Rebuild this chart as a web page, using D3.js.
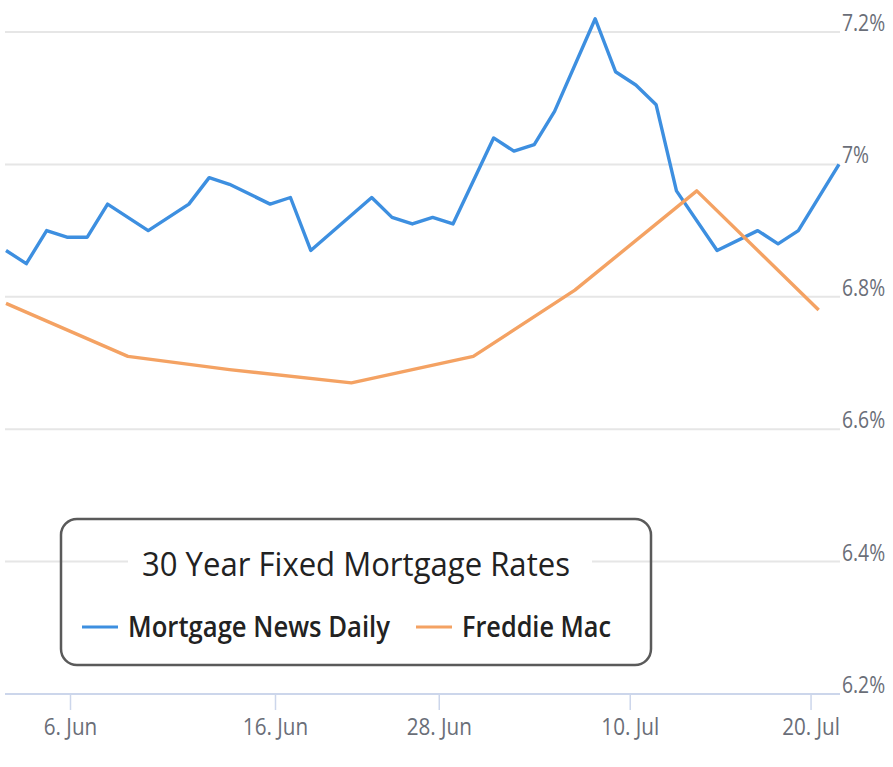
<!DOCTYPE html>
<html><head><meta charset="utf-8">
<script src="https://cdn.jsdelivr.net/npm/d3@7"></script>
<style>
body{margin:0;background:#fff}
text{font-family:'Open Sans','DejaVu Sans',sans-serif}
</style>
</head><body><svg id="c" width="893" height="767"></svg>
<script>
// Mortgage News Daily (daily index, rate %)
const mndIndex = [0,1,2,3,4,5,7,9,10,11,13,14,15,18,19,20,21,22,24,25,26,27,29,30,31,32,33,35,37,38,39,41];
const mndRate  = [6.87,6.85,6.90,6.89,6.89,6.94,6.90,6.94,6.98,6.97,6.94,6.95,6.87,6.95,6.92,6.91,6.92,6.91,7.04,7.02,7.03,7.08,7.22,7.14,7.12,7.09,6.96,6.87,6.90,6.88,6.90,7.00];
// Freddie Mac weekly
const fmIndex = [0,6,11,17,23,28,34,40];
const fmRate  = [6.79,6.71,6.69,6.67,6.71,6.81,6.96,6.78];
const yTicks = [6.2,6.4,6.6,6.8,7.0,7.2];
const yTickLabels = ["6.2%","6.4%","6.6%","6.8%","7%","7.2%"];
const xTickIndex = [3.15,13.24,21.3,30.7,39.6];
const xTickLabels = ["6. Jun","16. Jun","28. Jun","10. Jul","20. Jul"];
const seriesNames = ["Mortgage News Daily","Freddie Mac"];
const seriesColors = ["#3d8fe0","#f4a263"];
const chartTitle = "30 Year Fixed Mortgage Rates";

const svg = d3.select("#c");
const left = 5, right = 840;
const x = d3.scaleLinear().domain([0,41]).range([6,839]);
const y = d3.scaleLinear().domain([6.2,7.2]).range([694,32]);

function condense(sel, f){
  sel.each(function(){
    const len = this.getComputedTextLength();
    d3.select(this).attr("textLength", len*f).attr("lengthAdjust","spacingAndGlyphs");
  });
}

// gridlines
svg.append("g").selectAll("line").data(yTicks.slice(1)).join("line")
  .attr("x1",left).attr("x2",right).attr("y1",d=>y(d)).attr("y2",d=>y(d))
  .attr("stroke","#e6e6e6").attr("stroke-width",2);

// y labels
const yl = svg.append("g").selectAll("text").data(yTicks).join("text")
  .attr("x",842).attr("y",d=>y(d)-1).attr("font-size",23).attr("fill","#6a6e78")
  .text((d,i)=>yTickLabels[i]);
condense(yl, 0.84);

// x axis
const xAxis = d3.axisBottom(x).tickValues(xTickIndex).tickFormat((d,i)=>xTickLabels[i]).tickSize(16).tickPadding(8);
const gx = svg.append("g").attr("transform","translate(0,694)").call(xAxis);
gx.select(".domain").remove();
gx.append("line").attr("x1",left).attr("x2",right).attr("stroke","#ccd6eb").attr("stroke-width",2);
gx.selectAll(".tick line").attr("stroke","#ccd6eb").attr("stroke-width",1.5);
const xt = gx.selectAll(".tick text").attr("font-size",24).attr("fill","#6a6e78")
  .style("font-family","'Open Sans','DejaVu Sans',sans-serif");
condense(xt, 0.86);

// lines
const line = d3.line().x(d=>x(d[0])).y(d=>y(d[1]));
const mnd = mndIndex.map((d,i)=>[d,mndRate[i]]);
const fm = fmIndex.map((d,i)=>[d,fmRate[i]]);
svg.append("path").datum(mnd).attr("d",line).attr("fill","none")
  .attr("stroke",seriesColors[0]).attr("stroke-width",3.4).attr("stroke-linejoin","round");
svg.append("path").datum(fm).attr("d",line).attr("fill","none")
  .attr("stroke",seriesColors[1]).attr("stroke-width",3.4).attr("stroke-linejoin","round");

// legend
const lg = svg.append("g");
lg.append("rect").attr("x",61).attr("y",519).attr("width",590).attr("height",146).attr("rx",16)
  .attr("fill","none").attr("stroke","#5a5a5a").attr("stroke-width",2.5);
lg.append("rect").attr("x",128).attr("y",546).attr("width",464).attr("height",36).attr("fill","#fff");
lg.append("text").attr("x",356).attr("y",576).attr("text-anchor","middle").attr("font-size",33)
  .attr("fill","#222").attr("textLength",428).attr("lengthAdjust","spacingAndGlyphs").text(chartTitle);
const items = [{x:82,tx:128,w:262},{x:416,tx:462,w:149}];
items.forEach((it,i)=>{
  lg.append("line").attr("x1",it.x).attr("x2",it.x+36).attr("y1",627).attr("y2",627)
    .attr("stroke",seriesColors[i]).attr("stroke-width",3);
  lg.append("text").attr("x",it.tx).attr("y",637).attr("font-size",28).attr("font-weight",600)
    .attr("fill","#222").attr("textLength",it.w).attr("lengthAdjust","spacingAndGlyphs").text(seriesNames[i]);
});
</script>
</body></html>
